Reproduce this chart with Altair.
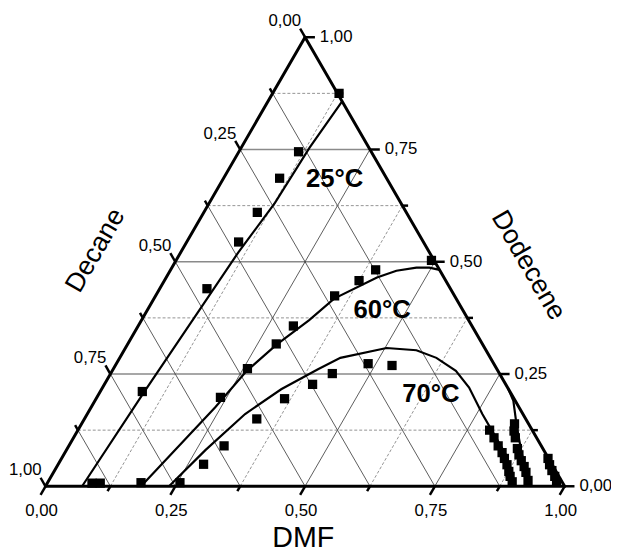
import altair as alt
import pandas as pd

# ---------------- data (ternary: DMF fraction, Dodecene fraction; Decane = rest) ----------------
pts25_dmf = [0.128, 0.115, 0.108, 0.103, 0.100, 0.091, 0.081, 0.086, 0.102]
pts25_dod = [0.875, 0.745, 0.686, 0.610, 0.544, 0.440, 0.211, 0.007, 0.007]

pts60_dmf = [0.180, 0.238, 0.258, 0.286, 0.299, 0.345, 0.375, 0.395, 0.492]
pts60_dod = [0.008, 0.198, 0.262, 0.317, 0.357, 0.424, 0.458, 0.482, 0.503]

pts70_dmf = [0.255, 0.280, 0.299, 0.332, 0.363, 0.401, 0.427, 0.485, 0.533,
             0.793, 0.810, 0.827, 0.842, 0.853, 0.865, 0.876, 0.884, 0.894]
pts70_dod = [0.008, 0.049, 0.090, 0.150, 0.195, 0.227, 0.251, 0.273, 0.269,
             0.125, 0.108, 0.090, 0.075, 0.062, 0.048, 0.033, 0.022, 0.010]

ptsmid_dmf = [0.834, 0.841, 0.851, 0.867, 0.877, 0.888, 0.900, 0.910, 0.923]
ptsmid_dod = [0.139, 0.123, 0.108, 0.084, 0.070, 0.057, 0.044, 0.031, 0.013]

ptsright_dmf = [0.937, 0.947, 0.958, 0.970, 0.980]
ptsright_dod = [0.062, 0.048, 0.035, 0.022, 0.009]

c25_dmf = [0.0705, 0.085, 0.111, 0.1265, 0.1317, 0.1429]
c25_dod = [0.0, 0.211, 0.521, 0.631, 0.754, 0.857]

c60_dmf = [0.184, 0.239, 0.259, 0.287, 0.323, 0.347, 0.406, 0.436, 0.471, 0.496, 0.518]
c60_dod = [0.0, 0.176, 0.2565, 0.315, 0.370, 0.418, 0.465, 0.480, 0.487, 0.487, 0.482]

c70_dmf = [0.238, 0.268, 0.304, 0.346, 0.394, 0.425, 0.503, 0.563, 0.610, 0.662,
           0.706, 0.761, 0.812, 0.849, 0.888, 0.902]
c70_dod = [0.0, 0.081, 0.161, 0.216, 0.260, 0.286, 0.308, 0.303, 0.286, 0.257,
           0.220, 0.161, 0.110, 0.073, 0.022, 0.0]

cR_dmf = [0.782, 0.806, 0.842, 0.881, 0.916, 0.930]
cR_dod = [0.218, 0.1905, 0.132, 0.073, 0.022, 0.0]

tick_values = [0.0, 0.125, 0.25, 0.375, 0.5, 0.625, 0.75, 0.875, 1.0]
tick_labels = ["0,00", "0,25", "0,50", "0,75", "1,00"]
label_values = [0.0, 0.25, 0.5, 0.75, 1.0]

temp_labels = ["25°C", "60°C", "70°C"]
temp_dmf = [0.215, 0.452, 0.640]
temp_dod = [0.684, 0.393, 0.205]

axis_titles = ["DMF", "Decane", "Dodecene"]
axis_title_dmf = [0.554, -0.166, 0.684]
axis_title_dod = [-0.115, 0.525, 0.492]
axis_title_angle = [0, 300, 60]
axis_title_size = [29, 27, 27]


def cart(d, z):
    return d + z / 2.0, z


xs = alt.Scale(domain=[0, 1], nice=False, zero=False)
ys = alt.Scale(domain=[0, 1], nice=False, zero=False)

# ---------------- grid ----------------
grid_rows = []
for k in range(1, 8):
    v = k / 8
    x1, y1 = cart(0, v)
    x2, y2 = cart(1 - v, v)
    grid_rows.append(dict(x1=x1, y1=y1, x2=x2, y2=y2, kind="hsolid" if k % 2 == 0 else "dash"))
    x1, y1 = cart(0, 1 - v)
    x2, y2 = cart(1 - v, 0)
    grid_rows.append(dict(x1=x1, y1=y1, x2=x2, y2=y2, kind="thin"))
    x1, y1 = cart(v, 0)
    x2, y2 = cart(v, 1 - v)
    grid_rows.append(dict(x1=x1, y1=y1, x2=x2, y2=y2, kind="thin" if k % 2 == 0 else "dash"))
grid = pd.DataFrame(grid_rows)

edges = pd.DataFrame([
    dict(x1=0, y1=0, x2=1, y2=0),
    dict(x1=0, y1=0, x2=0.5, y2=1),
    dict(x1=1, y1=0, x2=0.5, y2=1),
])

tick_rows = []
for i, v in enumerate(tick_values):
    t = 0.019 if i % 2 == 0 else 0.011
    x1, y1 = cart(v, 0)
    x2, y2 = cart(v, -t)
    tick_rows.append(dict(x1=x1, y1=y1, x2=x2, y2=y2))
    x1, y1 = cart(0, 1 - v)
    x2, y2 = cart(-t, 1 - v + t)
    tick_rows.append(dict(x1=x1, y1=y1, x2=x2, y2=y2))
    x1, y1 = cart(1 - v, v)
    x2, y2 = cart(1 - v + t, v)
    tick_rows.append(dict(x1=x1, y1=y1, x2=x2, y2=y2))
ticks = pd.DataFrame(tick_rows)

lab_bottom = pd.DataFrame([dict(x=cart(v, 0)[0], y=0, t=l) for v, l in zip(label_values, tick_labels)])
lab_left = pd.DataFrame([dict(x=cart(0, 1 - v)[0], y=1 - v, t=l) for v, l in zip(label_values, tick_labels)])
lab_right = pd.DataFrame([dict(x=cart(1 - v, v)[0], y=v, t=l) for v, l in zip(label_values, tick_labels)])

pts_rows = []
for name, dl, zl in [("25", pts25_dmf, pts25_dod), ("60", pts60_dmf, pts60_dod),
                     ("70", pts70_dmf, pts70_dod), ("mid", ptsmid_dmf, ptsmid_dod),
                     ("right", ptsright_dmf, ptsright_dod)]:
    for d, z in zip(dl, zl):
        x, y = cart(d, z)
        pts_rows.append(dict(x=x, y=y, s=name))
pts = pd.DataFrame(pts_rows)

curve_rows = []
for name, dl, zl in [("25", c25_dmf, c25_dod), ("60", c60_dmf, c60_dod),
                     ("70", c70_dmf, c70_dod), ("R", cR_dmf, cR_dod)]:
    for i, (d, z) in enumerate(zip(dl, zl)):
        x, y = cart(d, z)
        curve_rows.append(dict(x=x, y=y, s=name, o=i))
curves = pd.DataFrame(curve_rows)

temps = pd.DataFrame([dict(x=cart(d, z)[0], y=z, t=t) for t, d, z in zip(temp_labels, temp_dmf, temp_dod)])
titles = pd.DataFrame([dict(x=cart(d, z)[0], y=z, t=t, a=a, fs=f)
                       for t, d, z, a, f in zip(axis_titles, axis_title_dmf, axis_title_dod,
                                                axis_title_angle, axis_title_size)])

FONT = "Liberation Sans"


def rules(df):
    return alt.Chart(df).mark_rule().encode(
        x=alt.X("x1:Q", scale=xs, axis=None),
        y=alt.Y("y1:Q", scale=ys, axis=None),
        x2="x2:Q", y2="y2:Q")


g_h = rules(grid[grid.kind == "hsolid"]).mark_rule(color="#8a8a8a", strokeWidth=1.6)
g_thin = rules(grid[grid.kind == "thin"]).mark_rule(color="#333333", strokeWidth=0.8)
g_dash = rules(grid[grid.kind == "dash"]).mark_rule(color="#777777", strokeWidth=0.8, strokeDash=[3, 2])
e_layer = rules(edges).mark_rule(color="black", strokeWidth=3, strokeCap="round")
t_layer = rules(ticks).mark_rule(color="black", strokeWidth=2.5)

c_layer = alt.Chart(curves).mark_line(color="black", strokeWidth=2.2).encode(
    x=alt.X("x:Q", scale=xs, axis=None), y=alt.Y("y:Q", scale=ys, axis=None),
    detail="s:N", order="o:Q")

p_layer = alt.Chart(pts).mark_square(color="black", size=88, opacity=1, filled=True).encode(
    x=alt.X("x:Q", scale=xs, axis=None), y=alt.Y("y:Q", scale=ys, axis=None))


def texts(df, **kw):
    return alt.Chart(df).mark_text(font=FONT, color="black", **kw).encode(
        x=alt.X("x:Q", scale=xs, axis=None), y=alt.Y("y:Q", scale=ys, axis=None), text="t:N")


lb = texts(lab_bottom, fontSize=17, align="center", baseline="middle", dx=-4, dy=25)
ll = texts(lab_left, fontSize=17, align="right", baseline="middle", dx=-4, dy=-16)
lr = texts(lab_right, fontSize=17, align="left", baseline="middle", dx=15, dy=0)
tl = texts(temps, fontSize=26, fontWeight="bold", align="center", baseline="middle")

title_layers = []
for t in axis_titles:
    sub = titles[titles.t == t]
    a = int(sub.a.iloc[0])
    f = int(sub.fs.iloc[0])
    title_layers.append(texts(sub, fontSize=f, align="center", baseline="middle", angle=a))

chart = alt.layer(g_h, g_thin, g_dash, c_layer, e_layer, t_layer, p_layer,
                  lb, ll, lr, tl, *title_layers).properties(
    width=526, height=455,
    padding={"left": 38, "top": 26, "right": 47, "bottom": 65},
    autosize=alt.AutoSizeParams(type="none"),
).configure_view(stroke=None)

chart.save("out.html", embed_options={"renderer": "svg", "actions": False})
